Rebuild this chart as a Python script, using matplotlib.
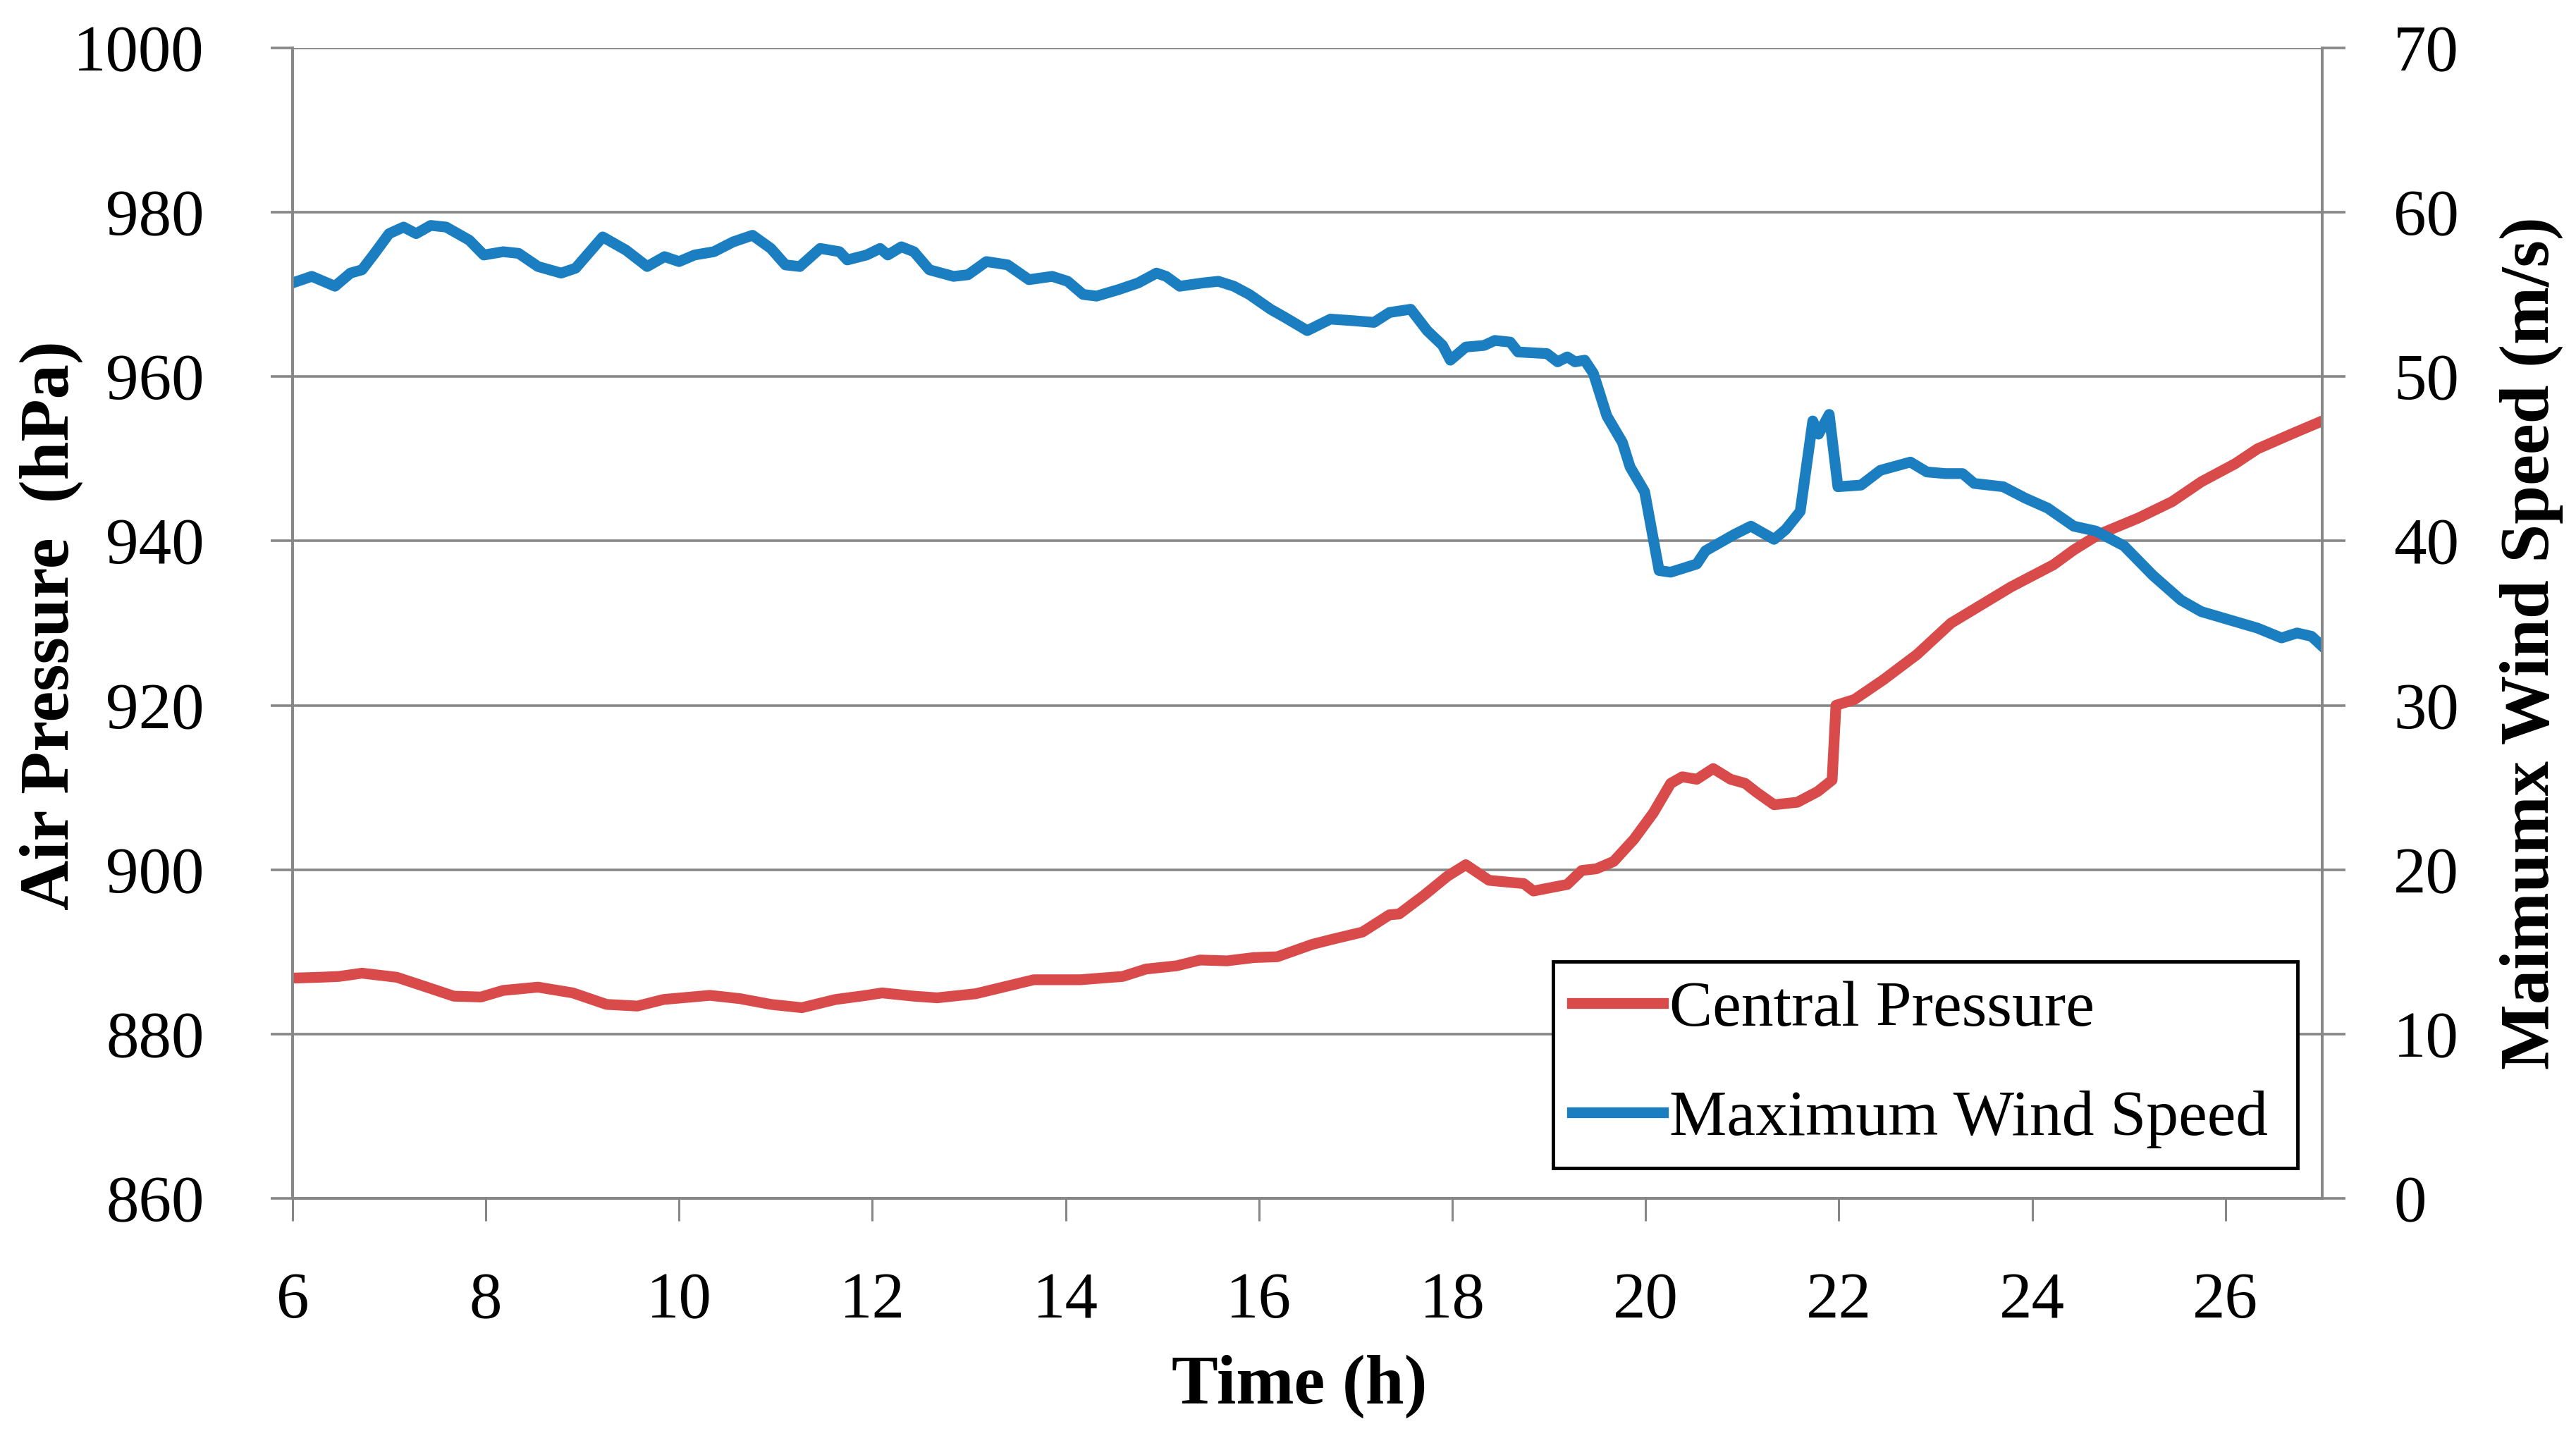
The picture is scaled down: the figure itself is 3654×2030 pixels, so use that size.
import numpy as np
import matplotlib
matplotlib.use('Agg')
import matplotlib.pyplot as plt

# === DATA ===
time_p = [6.0, 6.28, 6.48, 6.72, 7.08, 7.39, 7.67, 7.95, 8.18, 8.54, 8.9, 9.25, 9.57, 9.84,
          10.32, 10.63, 10.95, 11.27, 11.62, 11.94, 12.1, 12.43, 12.67, 13.07, 13.67, 14.15,
          14.59, 14.83, 15.15, 15.39, 15.67, 15.95, 16.19, 16.55, 16.75, 17.07, 17.35, 17.45,
          17.71, 17.95, 18.14, 18.38, 18.74, 18.84, 19.19, 19.34, 19.49, 19.67, 19.88, 20.08,
          20.26, 20.38, 20.53, 20.7, 20.88, 21.03, 21.15, 21.33, 21.57, 21.78, 21.93, 21.97,
          22.16, 22.46, 22.81, 23.16, 23.4, 23.78, 24.22, 24.43, 24.69, 25.1, 25.45, 25.75,
          26.1, 26.33, 26.68, 27.0]
pressure = [886.8, 886.9, 887.0, 887.4, 886.9, 885.7, 884.6, 884.5, 885.3, 885.7, 885.0, 883.6,
            883.4, 884.2, 884.7, 884.3, 883.6, 883.2, 884.2, 884.7, 885.0, 884.6, 884.4, 884.9,
            886.6, 886.6, 887.0, 887.9, 888.3, 889.0, 888.9, 889.3, 889.4, 890.9, 891.5, 892.4,
            894.5, 894.6, 896.9, 899.2, 900.6, 898.7, 898.3, 897.4, 898.2, 899.9, 900.1, 901.0,
            903.7, 906.9, 910.5, 911.3, 911.0, 912.3, 911.0, 910.5, 909.4, 907.9, 908.2, 909.5,
            910.9, 920.0, 920.7, 923.1, 926.2, 930.0, 931.7, 934.4, 937.1, 938.9, 940.8, 942.8,
            944.8, 947.2, 949.4, 951.2, 953.0, 954.6]

time_w = [6.0, 6.2, 6.44, 6.6, 6.72, 6.85, 7.0, 7.15, 7.28, 7.43, 7.59, 7.83, 7.98, 8.18, 8.34,
          8.54, 8.78, 8.93, 9.21, 9.45, 9.67, 9.85, 10.0, 10.16, 10.36, 10.56, 10.76, 10.95,
          11.1, 11.25, 11.46, 11.66, 11.74, 11.94, 12.08, 12.16, 12.3, 12.43, 12.59, 12.84,
          12.99, 13.18, 13.4, 13.62, 13.86, 14.02, 14.18, 14.32, 14.55, 14.75, 14.94, 15.04,
          15.18, 15.42, 15.58, 15.74, 15.9, 16.12, 16.27, 16.5, 16.74, 16.98, 17.19, 17.35,
          17.57, 17.74, 17.9, 17.98, 18.14, 18.33, 18.44, 18.6, 18.68, 18.98, 19.09, 19.19,
          19.27, 19.37, 19.46, 19.6, 19.76, 19.84, 19.99, 20.14, 20.26, 20.53, 20.62, 20.92,
          21.09, 21.33, 21.45, 21.6, 21.73, 21.79, 21.9, 21.99, 22.23, 22.43, 22.74, 22.91,
          23.1, 23.28, 23.4, 23.7, 23.93, 24.16, 24.43, 24.66, 24.95, 25.25, 25.54, 25.75,
          26.04, 26.33, 26.58, 26.74, 26.89, 27.0]
wind = [55.7, 56.1, 55.5, 56.3, 56.5, 57.5, 58.7, 59.1, 58.7, 59.2, 59.1, 58.3, 57.4, 57.6, 57.5,
        56.7, 56.3, 56.6, 58.5, 57.7, 56.7, 57.3, 57.0, 57.4, 57.6, 58.2, 58.6, 57.8,
        56.8, 56.7, 57.8, 57.6, 57.1, 57.4, 57.8, 57.4, 57.9, 57.6, 56.5, 56.1,
        56.2, 57.0, 56.8, 55.9, 56.1, 55.8, 55.0, 54.9, 55.3, 55.7, 56.3, 56.1,
        55.5, 55.7, 55.8, 55.5, 55.0, 54.1, 53.6, 52.8, 53.5, 53.4, 53.3, 53.9,
        54.1, 52.8, 51.9, 51.0, 51.8, 51.9, 52.2, 52.1, 51.5, 51.4, 50.9, 51.2,
        50.9, 51.0, 50.2, 47.6, 46.0, 44.5, 43.0, 38.2, 38.1, 38.6, 39.4, 40.4,
        40.9, 40.1, 40.7, 41.8, 47.3, 46.5, 47.7, 43.3, 43.4, 44.3, 44.8, 44.2,
        44.1, 44.1, 43.5, 43.3, 42.6, 42.0, 40.9, 40.6, 39.7, 37.9, 36.4, 35.7,
        35.2, 34.7, 34.1, 34.4, 34.2, 33.6]

x_ticks = list(range(6, 27, 2))
p_ticks = list(range(860, 1001, 20))
w_ticks = list(range(0, 71, 10))

RED = '#D94A4A'
BLUE = '#1A7EC1'
GRAY = '#878787'
FONT = 'Liberation Serif'

plt.rcParams['font.family'] = FONT

fig = plt.figure(figsize=(36.55, 20.30), dpi=100)
ax = fig.add_axes([0.1135, 0.1626, 0.7877, 0.8039])
ax2 = ax.twinx()

l1, = ax.plot(time_p, pressure, color=RED, lw=11, solid_joinstyle='round', label='Central Pressure')
l2, = ax2.plot(time_w, wind, color=BLUE, lw=11, solid_joinstyle='round', label='Maximum Wind Speed')

ax.set_xlim(6, 27)
ax.set_ylim(860, 1000)
ax2.set_ylim(0, 70)
ax.set_xticks(x_ticks)
ax.set_yticks(p_ticks)
ax2.set_yticks(w_ticks)

ax.grid(axis='y', color=GRAY, lw=2.6)
ax.set_axisbelow(True)

for a in (ax, ax2):
    a.spines['top'].set_visible(False)
    for s in ('left', 'right', 'bottom'):
        a.spines[s].set_color(GRAY)
        a.spines[s].set_linewidth(2.6)

ax.tick_params(axis='x', direction='out', length=23, width=2.2, color=GRAY, pad=52, labelsize=67)
ax.tick_params(axis='y', direction='out', length=22, width=2.6, color=GRAY, pad=68, labelsize=67)
ax2.tick_params(axis='y', direction='out', length=24, width=2.6, color=GRAY, pad=49, labelsize=67)

ax.set_xlabel('Time (h)', fontsize=71, fontweight='bold')
ax.xaxis.set_label_coords(0.496, -0.136)
ax.set_ylabel('Air Pressure  (hPa)', fontsize=71, fontweight='bold')
ax.yaxis.set_label_coords(-0.103, 0.498)
ax2.set_ylabel('Maimumx Wind Speed (m/s)', fontsize=71, fontweight='bold')
ax2.yaxis.set_label_coords(1.0875, 0.483)

leg = ax2.legend(handles=[l1, l2], loc='center', bbox_to_anchor=(0.621, 0.018, 0.367, 0.1965),
                 mode='expand', fontsize=66, frameon=True, fancybox=False,
                 handlelength=1.4, handletextpad=0.1, labelspacing=0.78,
                 borderpad=0.3, borderaxespad=0)
leg.get_frame().set_edgecolor('black')
leg.get_frame().set_linewidth(3.5)
leg.get_frame().set_alpha(1)

fig.savefig('out.png', dpi=100, facecolor='white')
